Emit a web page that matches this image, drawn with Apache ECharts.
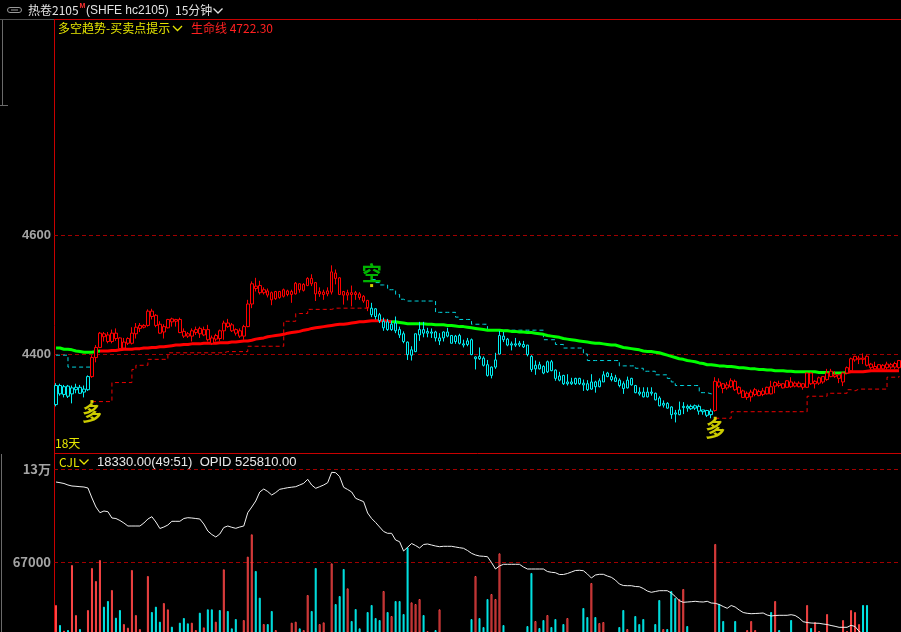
<!DOCTYPE html>
<html><head><meta charset="utf-8">
<script src="https://cdn.jsdelivr.net/npm/echarts@6/dist/echarts.min.js"></script>
<style>html,body{margin:0;padding:0;background:#000;overflow:hidden}#c{width:901px;height:632px}</style>
</head><body><div id="c"></div>
<script>
// ---------- data ----------
const opens = [4315,4347,4332,4346,4333,4340,4344,4336,4340,4362,
4394,4411,4434,4432,4421,4435,4427,4410,4418,4418,
4434,4443,4448,4448,4472,4465,4450,4437,4444,4459,
4458,4458,4438,4434,4430,4436,4443,4432,4441,4427,
4425,4439,4439,4452,4449,4441,4439,4430,4446,4484,
4514,4515,4503,4506,4503,4493,4505,4497,4506,4500,
4501,4518,4507,4515,4527,4520,4501,4500,4501,4504,
4536,4528,4505,4499,4503,4503,4501,4497,4490,4477,
4476,4466,4444,4454,4441,4452,4441,4434,4420,4398,
4404,4432,4441,4435,4437,4437,4422,4427,4437,4431,
4421,4431,4417,4416,4424,4392,4396,4393,4382,4364,
4378,4400,4430,4425,4417,4415,4418,4416,4415,4396,
4375,4382,4379,4370,4387,4373,4356,4364,4350,4350,
4350,4359,4351,4350,4341,4353,4345,4353,4368,4362,
4360,4356,4350,4343,4359,4347,4336,4336,4328,4336,
4334,4326,4314,4317,4311,4301,4298,4310,4312,4312,
4309,4312,4306,4305,4298,4305,4353,4350,4343,4345,
4354,4344,4338,4327,4328,4332,4337,4332,4333,4345,
4346,4350,4350,4344,4353,4351,4345,4350,4344,4368,
4350,4351,4353,4357,4371,4365,4365,4353,4368,4372,
4390,4391,4393,4396,4383,4379,4375,4375,4377,4382,
4378,4389];
const closes = [4347,4333,4345,4329,4343,4344,4334,4341,4362,4394,
4411,4435,4429,4421,4435,4426,4409,4420,4426,4435,
4445,4448,4445,4472,4463,4448,4435,4446,4458,4454,
4455,4436,4430,4430,4439,4441,4434,4441,4424,4418,
4431,4426,4452,4446,4439,4435,4430,4446,4484,4518,
4510,4503,4508,4499,4491,4505,4495,4508,4500,4505,
4519,4508,4517,4527,4518,4501,4505,4504,4506,4538,
4527,4500,4499,4503,4500,4500,4495,4489,4478,4466,
4463,4456,4455,4441,4450,4439,4432,4421,4399,4407,
4434,4441,4435,4438,4435,4427,4427,4437,4430,4418,
4430,4418,4415,4422,4399,4395,4392,4381,4364,4378,
4390,4431,4424,4415,4415,4417,4415,4412,4399,4374,
4381,4375,4368,4387,4372,4359,4363,4350,4353,4353,
4359,4350,4348,4340,4353,4345,4355,4365,4362,4357,
4354,4347,4342,4356,4348,4335,4333,4328,4336,4334,
4323,4313,4317,4309,4298,4299,4306,4312,4309,4308,
4313,4304,4303,4297,4304,4354,4346,4342,4348,4355,
4340,4334,4327,4334,4336,4340,4330,4338,4344,4333,
4352,4347,4343,4355,4345,4346,4351,4344,4368,4350,
4354,4360,4362,4368,4362,4362,4359,4368,4377,4392,
4396,4393,4391,4381,4377,4375,4382,4381,4383,4378,
4384,4377];
const highs = [4351,4350,4348,4348,4347,4350,4348,4347,4364,4398,
4415,4437,4437,4437,4441,4443,4428,4427,4428,4445,
4452,4452,4450,4475,4476,4467,4455,4450,4459,4461,
4459,4461,4443,4437,4443,4446,4446,4446,4449,4431,
4434,4441,4456,4459,4452,4443,4443,4449,4491,4522,
4528,4523,4512,4510,4505,4506,4506,4510,4508,4508,
4521,4519,4519,4529,4534,4521,4512,4508,4512,4549,
4542,4529,4506,4508,4515,4506,4504,4499,4491,4486,
4477,4469,4461,4459,4456,4463,4446,4438,4421,4413,
4434,4454,4454,4444,4443,4439,4435,4438,4444,4432,
4432,4434,4424,4427,4426,4396,4411,4396,4390,4379,
4402,4439,4437,4427,4421,4427,4422,4422,4415,4398,
4389,4387,4381,4389,4390,4374,4370,4365,4366,4360,
4360,4360,4357,4356,4366,4355,4359,4371,4370,4368,
4365,4359,4354,4362,4360,4348,4344,4344,4344,4344,
4335,4329,4322,4319,4312,4306,4320,4319,4315,4315,
4315,4315,4306,4306,4308,4361,4359,4351,4353,4359,
4357,4346,4340,4337,4340,4343,4340,4343,4345,4355,
4354,4355,4351,4356,4361,4354,4354,4351,4369,4369,
4356,4362,4363,4375,4375,4371,4366,4370,4379,4394,
4397,4397,4401,4398,4385,4387,4383,4383,4387,4385,
4387,4390];
const lows = [4312,4330,4327,4326,4317,4334,4333,4327,4338,4360,
4386,4410,4421,4418,4418,4422,4408,4408,4415,4416,
4426,4437,4443,4446,4458,4445,4434,4426,4443,4446,
4446,4435,4427,4427,4421,4432,4427,4430,4421,4415,
4421,4422,4424,4444,4437,4431,4427,4424,4445,4477,
4505,4500,4500,4495,4482,4491,4493,4495,4497,4486,
4500,4503,4505,4514,4514,4489,4496,4491,4497,4500,
4517,4499,4483,4490,4480,4491,4491,4486,4472,4462,
4458,4452,4439,4439,4439,4435,4427,4418,4390,4389,
4403,4422,4428,4428,4427,4421,4415,4421,4428,4418,
4417,4416,4411,4413,4398,4374,4390,4379,4362,4359,
4375,4399,4420,4413,4406,4412,4412,4410,4396,4370,
4365,4374,4366,4368,4371,4355,4354,4348,4347,4348,
4348,4348,4338,4338,4340,4335,4344,4353,4361,4354,
4353,4344,4333,4342,4347,4334,4330,4327,4327,4330,
4322,4312,4310,4308,4291,4285,4297,4299,4303,4306,
4306,4298,4298,4294,4292,4303,4343,4334,4340,4343,
4338,4332,4326,4323,4320,4329,4329,4329,4332,4332,
4334,4344,4342,4343,4343,4344,4344,4340,4343,4348,
4342,4348,4350,4355,4361,4360,4351,4346,4366,4371,
4387,4383,4383,4379,4374,4374,4374,4374,4374,4375,
4375,4375];
const lifeLine = [4410,4410,4408,4408,4407,4405,4404,4403,4403,4403,
4404,4405,4405,4405,4406,4406,4407,4408,4408,4408,
4409,4409,4410,4410,4411,4411,4412,4412,4413,4414,
4415,4415,4416,4416,4417,4417,4417,4418,4418,4418,
4418,4419,4419,4419,4420,4420,4421,4422,4422,4423,
4425,4426,4427,4429,4430,4431,4432,4433,4435,4436,
4437,4438,4440,4441,4443,4444,4445,4446,4447,4448,
4449,4450,4450,4451,4452,4453,4454,4454,4455,4456,
4456,4456,4456,4455,4454,4454,4453,4452,4451,4451,
4451,4451,4451,4450,4450,4449,4449,4449,4448,4448,
4447,4446,4446,4445,4444,4443,4442,4441,4440,4440,
4440,4440,4439,4439,4438,4438,4437,4437,4436,4436,
4435,4434,4433,4431,4430,4429,4428,4426,4425,4424,
4423,4422,4421,4420,4419,4418,4418,4417,4416,4415,
4415,4413,4411,4410,4409,4408,4407,4405,4404,4404,
4403,4402,4400,4398,4396,4394,4392,4391,4389,4388,
4387,4385,4384,4382,4382,4381,4380,4380,4379,4379,
4378,4377,4377,4376,4375,4375,4374,4374,4373,4373,
4372,4372,4372,4371,4371,4370,4370,4370,4370,4370,
4370,4369,4369,4369,4368,4368,4368,4368,4369,4370,
4370,4370,4370,4371,4372,4372,4372,4372,4372,4372,
4372,4372];
const stopLine = [4398,4398,4398,4378,4378,4378,4378,4378,4378,4320,
4320,4320,4320,4320,4352,4352,4352,4352,4352,4374,
4381,4381,4381,4391,4391,4391,4391,4391,4402,4402,
4402,4402,4402,4402,4402,4402,4402,4402,4402,4402,
4402,4402,4404,4404,4404,4404,4404,4404,4413,4413,
4413,4413,4413,4413,4413,4413,4413,4455,4455,4455,
4468,4468,4468,4475,4475,4475,4475,4475,4475,4477,
4477,4477,4477,4477,4477,4477,4477,4477,4477,4525,
4520,4516,4516,4508,4508,4500,4492,4489,4489,4489,
4489,4489,4489,4489,4489,4470,4470,4470,4470,4470,
4462,4458,4458,4458,4450,4450,4450,4450,4440,4440,
4440,4440,4440,4440,4440,4440,4440,4440,4440,4440,
4440,4440,4424,4424,4424,4416,4416,4410,4410,4410,
4410,4410,4400,4389,4389,4389,4389,4389,4389,4389,
4389,4380,4380,4380,4380,4376,4376,4371,4371,4371,
4365,4365,4365,4359,4353,4347,4347,4347,4347,4347,
4347,4335,4335,4333,4333,4292,4292,4292,4292,4303,
4303,4303,4303,4303,4303,4303,4303,4303,4303,4303,
4303,4303,4303,4303,4303,4303,4303,4303,4329,4329,
4329,4329,4329,4334,4334,4334,4334,4334,4340,4338,
4341,4341,4341,4341,4341,4341,4341,4341,4361,4361,
4361,4363];
const volumes = [37940,24380,20550,21000,65030,31160,21680,15000,34550,63000,
54190,68420,36800,40640,48100,29350,34550,25060,22580,61640,
31160,21680,12000,57580,33200,36800,26640,39290,35000,23260,
14000,25970,29130,25520,25970,21000,32740,22800,35000,35000,
26640,34550,62100,33870,22130,28450,16000,27770,70680,85800,
60970,42900,25060,25060,33870,21000,13000,19870,15000,25970,
26640,22130,21000,44700,33870,63000,25060,26190,15000,66160,
38610,44030,62320,49220,27100,35220,22130,14000,33200,37940,
29130,27770,47420,33200,30480,40640,40640,31840,77000,39740,
38610,42000,31160,20320,12000,21000,35000,15000,12000,16000,
11000,14000,10000,13000,28450,57580,29130,23030,42000,45390,
42000,72930,24380,12000,9000,14000,11000,13000,23700,59610,
27100,22350,27770,31160,23030,28450,15000,25060,29130,12000,
16000,10000,35900,29800,52840,29800,25740,26420,15000,12000,
14000,23030,34550,21680,16000,30480,25060,28450,13000,11000,
25060,41320,21680,21680,47420,42670,42000,48770,23700,12000,
9000,15000,11000,16000,13000,79250,38610,27100,14000,17000,
27100,15000,12000,21000,27100,21000,10000,13000,16000,33200,
40640,21000,12000,15000,27770,11000,14000,9000,37940,22350,
26420,20320,13000,31840,17000,10000,12000,27770,20320,34550,
33200,25060,37940,37940,14000,9000,12000,10000,13000,11000,
15000,18330];
const openInterest = [573700,573490,573250,572800,572500,572410,572290,572200,571900,568900,
566200,564490,565000,564790,562900,562750,562150,561400,560500,560500,
560500,560500,561400,562600,563290,561700,559750,560200,560800,561910,
561910,561910,562750,562990,562900,562750,562600,561100,559000,557950,
557200,558100,560050,560500,560110,559810,560200,560500,564490,566200,
568000,570700,571600,570850,569800,570550,571510,571750,571990,572140,
572290,572800,573310,574510,572800,571810,572290,572800,573490,576610,
576490,575290,572110,571450,570700,568810,568300,567790,564400,562750,
561550,560200,558850,558310,558310,556300,555790,553000,554110,555250,
554650,553900,554950,555100,554800,554500,554290,554410,554410,554410,
554200,553990,553810,553150,552310,551800,551500,551410,551290,549550,
547600,548500,549010,549010,549010,549010,549010,548200,547600,547600,
547600,547600,547600,546850,546610,546490,545950,545950,546250,546700,
547150,547210,547090,546100,544900,545800,546010,546010,545500,545110,
544300,543100,542650,542590,542590,542350,542290,541750,541000,540610,
540850,541090,541090,541090,540400,539350,538090,537610,537700,537790,
537910,537760,537700,537910,537400,537310,536950,536350,535810,536650,
536200,535300,534550,534310,534190,534250,534310,534400,533800,533500,
533650,533710,533710,533710,533890,533650,532900,531790,531550,531400,
531340,531310,531100,530950,530650,530410,530110,530110,530110,530710,
530350,528910,528100,527500,527200,526900,526600,526450,526300,526150,
526000,525810];
const signalIndex = [9, 79, 165];
const signalType  = ['多', '空', '多'];
const signalPrice = [4320, 4515, 4292];
const priceTicks = [4400, 4600];
const volumeTicks = [67000, 130000];
const volumeTickLabels = ['67000', '13万'];

// ---------- styles ----------
const RED = '#ff0000', CYAN = '#00eef2', GREEN = '#00ff00';
const VRED = '#ff4646', VCYAN = '#00e4e4';
const FRAME = '#c80000', DASH = '#a00000';
const CJK = '"Noto Sans CJK SC", "Liberation Sans", sans-serif';

const N = opens.length;
const categories = opens.map((_, i) => String(i));
const trend = [];
{ let st = '空', k = 0;
  for (let i = 0; i < N; i++) {
    while (k < signalIndex.length && signalIndex[k] <= i) { st = signalType[k]; k++; }
    trend.push(st);
  } }

const candleData = opens.map((o, i) => {
  const col = trend[i] === '多' ? RED : CYAN;
  return { value: [o, closes[i], lows[i], highs[i]],
    itemStyle: { color: '#000', color0: col, borderColor: col, borderColor0: col, borderColorDoji: col, borderWidth: 1 } };
});
const stopLong = stopLine.map((v, i) => trend[i] === '多' ? v : '-');
const stopShort = stopLine.map((v, i) => trend[i] === '空' ? v : '-');
const volData = volumes.map((v, i) => {
  const up = closes[i] >= opens[i];
  return { value: v, itemStyle: up ? { color: 'rgba(0,0,0,0)', borderColor: VRED, borderWidth: 1 } : { color: VCYAN, borderColor: VCYAN, borderWidth: 1 } };
});
const sigData = signalIndex.map((idx, k) => ({
  value: [idx, signalPrice[k]],
  label: { show: true, formatter: signalType[k], position: signalType[k] === '多' ? 'bottom' : 'top',
    distance: signalType[k] === '多' ? 0 : 1,
    color: signalType[k] === '多' ? '#ffff00' : '#00e000', fontSize: 20, fontWeight: 'bold', fontFamily: CJK }
}));

function txt(x, y, text, fill, font, align) {
  return { type: 'text', x: x, y: y, silent: true,
    style: { text: text, fill: fill, font: font, align: align || 'left', textAlign: align || 'left', verticalAlign: 'middle', textVerticalAlign: 'middle' } };
}
function ln(x1, y1, x2, y2, c) {
  return { type: 'line', silent: true, shape: { x1, y1, x2, y2 }, style: { stroke: c, lineWidth: 1 } };
}
function chev(x, y, c) {
  return { type: 'polyline', silent: true, shape: { points: [[x, y], [x + 4.5, y + 4.5], [x + 9, y]] }, style: { stroke: c, lineWidth: 1.3, fill: null } };
}

const chart = echarts.init(document.getElementById('c'), null, { renderer: 'canvas', width: 901, height: 632 });
chart.setOption({
  backgroundColor: '#000',
  animation: false,
  grid: [
    { left: 54, right: -1, top: 20, height: 433 },
    { left: 54, right: -1, top: 469, height: 163 }
  ],
  xAxis: [
    { type: 'category', gridIndex: 0, data: categories, boundaryGap: true, show: false },
    { type: 'category', gridIndex: 1, data: categories, boundaryGap: true, show: false }
  ],
  yAxis: [
    { type: 'value', gridIndex: 0, min: 4233.6, max: 4961.3, scale: true,
      axisLine: { show: false }, axisTick: { show: false }, splitLine: { show: false },
      axisLabel: { customValues: priceTicks, formatter: v => String(v), color: '#a4a4a4', fontSize: 13, fontWeight: 'bold', margin: 3, fontFamily: '"Liberation Sans", sans-serif' } },
    { type: 'value', gridIndex: 1, min: 19650, max: 130000,
      axisLine: { show: false }, axisTick: { show: false }, splitLine: { show: false },
      axisLabel: { customValues: volumeTicks, color: '#a4a4a4', fontSize: 13, fontWeight: 'bold', margin: 3, fontFamily: CJK,
        formatter: v => { const k = volumeTicks.indexOf(v); return k >= 0 ? volumeTickLabels[k] : ''; } } },
    { type: 'value', gridIndex: 1, min: 528700, max: 577600, show: false }
  ],
  visualMap: [{
    show: false, type: 'piecewise', seriesIndex: 1, dimension: 0,
    pieces: [{ lt: 11, color: GREEN }, { gte: 11, lt: 84, color: RED }, { gte: 84, lt: 198, color: GREEN }, { gte: 198, color: RED }]
  }],
  series: [
    { type: 'candlestick', xAxisIndex: 0, yAxisIndex: 0, data: candleData, barWidth: 3, z: 4,
      markLine: { silent: true, symbol: ['none', 'none'], z: 1, label: { show: false },
        lineStyle: { color: DASH, type: [4, 3], width: 1 }, data: priceTicks.map(v => ({ yAxis: v })) } },
    { type: 'line', xAxisIndex: 0, yAxisIndex: 0, data: lifeLine, showSymbol: false, z: 3,
      lineStyle: { width: 3 } },
    { type: 'line', xAxisIndex: 0, yAxisIndex: 0, data: stopLong, step: 'end', showSymbol: false, z: 2,
      lineStyle: { color: '#ee0000', width: 1, type: [4, 3] }, itemStyle: { color: '#ee0000' } },
    { type: 'line', xAxisIndex: 0, yAxisIndex: 0, data: stopShort, step: 'end', showSymbol: false, z: 2,
      lineStyle: { color: '#00d6e0', width: 1, type: [4, 3] }, itemStyle: { color: '#00d6e0' } },
    { type: 'scatter', xAxisIndex: 0, yAxisIndex: 0, data: sigData, symbol: 'rect', symbolSize: 3, z: 6,
      itemStyle: { color: '#ffff00' } },
    { type: 'bar', xAxisIndex: 1, yAxisIndex: 1, data: volData, barWidth: 2, z: 2,
      markLine: { silent: true, symbol: ['none', 'none'], z: 1, label: { show: false },
        lineStyle: { color: DASH, type: [4, 3], width: 1 }, data: volumeTicks.map(v => ({ yAxis: v })) } },
    { type: 'line', xAxisIndex: 1, yAxisIndex: 2, data: openInterest, showSymbol: false, z: 5,
      lineStyle: { color: '#f0f0f0', width: 1 } }
  ],
  graphic: [
    ln(54.5, 19.5, 54.5, 632, FRAME),
    ln(54, 19.5, 901, 19.5, FRAME),
    ln(0, 19.5, 54, 19.5, '#505050'),
    ln(54, 453.5, 901, 453.5, FRAME),
    ln(2.5, 20, 2.5, 105.5, '#6a6a6a'),
    ln(0, 105.5, 8, 105.5, '#6a6a6a'),
    ln(1.5, 454, 1.5, 632, '#6a6a6a'),
    { type: 'rect', silent: true, shape: { x: 7.5, y: 7.5, width: 14, height: 5, r: 2.5 }, style: { stroke: '#9a9a9a', fill: null, lineWidth: 1 } },
    ln(11, 10, 18, 10, '#9a9a9a'),
    txt(28, 10.5, '热卷2105', '#e2e2e2', '12px ' + CJK),
    txt(79.5, 6.5, 'M', '#ff3030', 'bold 7px "Liberation Sans", sans-serif'),
    txt(86, 10.5, '(SHFE hc2105)', '#e2e2e2', '12px "Liberation Sans", sans-serif'),
    txt(175, 10.5, '15分钟', '#e2e2e2', '12px ' + CJK),
    chev(213.5, 8.5, '#e2e2e2'),
    txt(58, 28, '多空趋势-买卖点提示', '#e6e600', '12px ' + CJK),
    chev(173, 26, '#e6e600'),
    txt(191, 28, '生命线 4722.30', '#ff2020', '12px ' + CJK),
    txt(55, 443, '18天', '#e6e600', '12px ' + CJK),
    txt(59, 462, 'CJL', '#e6e600', '12px ' + CJK),
    chev(79.5, 459.5, '#e6e600'),
    txt(97, 462, '18330.00(49:51)  OPID 525810.00', '#e8e8e8', '13px "Liberation Sans", sans-serif')
  ]
});
</script>
</body></html>
